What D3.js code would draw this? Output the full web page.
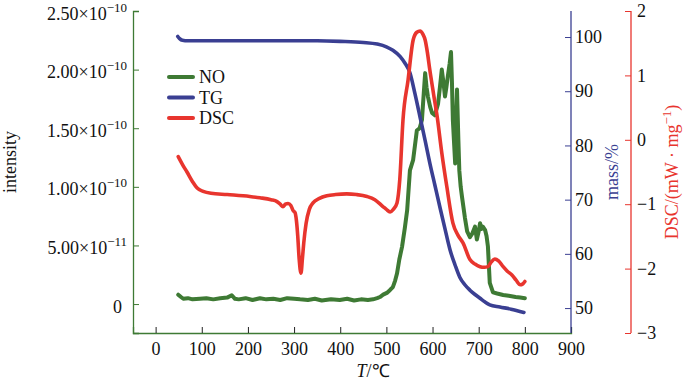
<!DOCTYPE html>
<html><head><meta charset="utf-8">
<script src="https://cdn.jsdelivr.net/npm/d3@7"></script>
<style>body{margin:0;background:#fff}svg{display:block}</style>
</head><body>
<script>
// ---- data ----
const noT   = [49,55,60,70,80,96,110,125,140,155,165,172,180,195,210,226,240,255,270,285,300,313,330,345,360,380,399,415,430,445,460,471,480,486,493,501,508,514,519,523,528,534,540,545,551,558,566,572,577,581,584,587,590,595,599,605,612,616,620,624,627,630,633,637,640,642,644,647,649,651,653,656,658,661,664,670,675,681,686,692,696,700,703,706,709,714,717,720,724,731,740,753,765,780,790,800];
const noVal = [0.8,0.6,0.45,0.5,0.4,0.45,0.5,0.4,0.5,0.55,0.75,0.45,0.4,0.5,0.35,0.5,0.4,0.45,0.35,0.5,0.45,0.4,0.35,0.45,0.3,0.4,0.35,0.45,0.3,0.4,0.35,0.4,0.5,0.6,0.8,0.95,1.2,1.45,2.0,2.6,3.8,4.9,6.5,8.0,11.4,12.3,14.8,15.0,15.7,18.0,19.7,18.5,17.7,16.8,16.3,16.1,17.1,18.5,20.0,18.8,17.7,18.5,19.4,20.5,21.5,19.0,15.7,13.5,12.0,15.5,18.3,14.0,11.4,10.0,9.1,7.4,6.2,5.7,6.0,6.6,5.5,6.2,6.9,6.4,6.6,6.3,5.8,4.9,1.8,1.0,0.9,0.77,0.7,0.6,0.55,0.5];

const tgT   = [48,52,58,70,100,150,200,250,300,350,400,450,480,500,515,530,540,551,562,573,584,594,605,616,627,638,649,659,670,681,692,703,714,724,746,770,798];
const tgVal = [100.1,99.7,99.4,99.3,99.3,99.3,99.3,99.3,99.3,99.3,99.2,99.0,98.7,98.2,97.5,96.4,95.2,93.4,89.5,85.2,80.9,76.8,72.7,68.6,64.6,60.7,57.9,55.7,54.3,53.3,52.5,51.8,51.1,50.6,50.2,49.8,49.2];

const dscT   = [49,58,68,80,90,103,120,155,204,226,250,263,270,276,281,287,293,298,302,305,308,311,315,318,321,326,333,341,355,371,390,414,435,458,475,493,500,508,515,523,529,536,547,558,566,573,579,584,589,594,602,610,620,631,644,655,666,681,692,703,712,720,727,735,743,753,762,772,781,790,795,800];
const dscVal = [-0.26,-0.38,-0.50,-0.65,-0.75,-0.80,-0.83,-0.85,-0.88,-0.90,-0.93,-0.96,-1.00,-1.04,-1.00,-0.99,-1.02,-1.10,-1.13,-1.25,-1.5,-1.85,-2.07,-1.85,-1.6,-1.3,-1.08,-0.98,-0.91,-0.87,-0.85,-0.84,-0.85,-0.88,-0.93,-1.04,-1.08,-1.12,-1.08,-0.98,-0.62,0.31,0.93,1.55,1.67,1.69,1.64,1.55,1.35,1.09,0.72,0.36,-0.2,-0.73,-1.29,-1.48,-1.6,-1.86,-1.93,-1.97,-1.98,-1.97,-1.90,-1.85,-1.88,-1.97,-2.04,-2.1,-2.18,-2.25,-2.24,-2.2];

const xTicks    = [0,100,200,300,400,500,600,700,800,900];
const noTicks   = [0,5,10,15,20,25];                // in units of 1e-11
const noTickMant = ["0","5.00","1.00","1.50","2.00","2.50"];
const noTickExp  = ["", "−11","−10","−10","−10","−10"];
const tgTicks   = [50,60,70,80,90,100];
const dscTicks  = [-3,-2,-1,0,1,2];
const legendNames = ["NO","TG","DSC"];

// ---- layout ----
const W=683,H=382;
const L=133,R=571,T=11,B=333;
const RED_AX=631;
const cGreen="#3e7a34", cBlue="#3a3f92", cRed="#e8352e";
const font="'Liberation Serif','Times New Roman',serif";

const svg=d3.select("body").append("svg").attr("width",W).attr("height",H)
  .style("font-family",font);

const x=d3.scaleLinear().domain([-49,900]).range([L,R]);
const yNO=d3.scaleLinear().domain([-2.47,25]).range([B,T]);
const yTG=d3.scaleLinear().domain([45.4,104.8]).range([B,T]);
const yDSC=d3.scaleLinear().domain([-3,2]).range([B,T]);

// ---- curves ----
const lineNO=d3.line().x((d,i)=>x(noT[i])).y(d=>yNO(d)).curve(d3.curveLinear);
const lineTG=d3.line().x((d,i)=>x(tgT[i])).y(d=>yTG(d)).curve(d3.curveMonotoneX);
const lineDSC=d3.line().x((d,i)=>x(dscT[i])).y(d=>yDSC(d)).curve(d3.curveMonotoneX);

svg.append("path").attr("d",lineNO(noVal)).attr("fill","none").attr("stroke",cGreen)
  .attr("stroke-width",4).attr("stroke-linejoin","round").attr("stroke-linecap","round");
svg.append("path").attr("d",lineTG(tgVal)).attr("fill","none").attr("stroke",cBlue)
  .attr("stroke-width",3.6).attr("stroke-linejoin","round").attr("stroke-linecap","round");
svg.append("path").attr("d",lineDSC(dscVal)).attr("fill","none").attr("stroke",cRed)
  .attr("stroke-width",3.6).attr("stroke-linejoin","round").attr("stroke-linecap","round");

// ---- x axis ----
const xAx=svg.append("g").attr("transform",`translate(0,${B})`)
  .call(d3.axisBottom(x).tickValues(xTicks).tickSize(-6).tickPadding(9).tickFormat(d3.format("d")));
xAx.select(".domain").attr("stroke",cGreen).attr("stroke-width",1.3);
xAx.selectAll(".tick line").attr("stroke","#222").attr("stroke-width",1);
xAx.selectAll(".tick text").attr("font-family",font).attr("font-size",18).attr("fill","#111");

// ---- left NO axis ----
const yAx=svg.append("g").attr("transform",`translate(${L},0)`)
  .call(d3.axisLeft(yNO).tickValues(noTicks).tickSize(-6).tickFormat(()=>""));
yAx.select(".domain").attr("stroke",cGreen).attr("stroke-width",1.3);
yAx.selectAll(".tick line").attr("stroke",cGreen);
yAx.selectAll(".tick text").remove();
noTicks.forEach((v,i)=>{
  const t=svg.append("text").attr("x",noTickExp[i]?127:122).attr("y",yNO(v)+8.5)
    .attr("text-anchor","end").attr("font-size",18).attr("fill","#111");
  if(noTickExp[i]){
    t.append("tspan").text(noTickMant[i]+"×10");
    t.append("tspan").attr("dy",-8).attr("font-size",13).text(noTickExp[i]);
  } else t.text(noTickMant[i]);
});

// ---- TG axis ----
const tgAx=svg.append("g").attr("transform",`translate(${R},0)`)
  .call(d3.axisRight(yTG).tickValues(tgTicks).tickSize(-6).tickPadding(4).tickFormat(d3.format("d")));
tgAx.select(".domain").attr("stroke",cBlue).attr("stroke-width",1.3).attr("d",`M0,${T}V${B}`);
tgAx.selectAll(".tick line").attr("stroke",cBlue);
tgAx.selectAll(".tick text").attr("x",4).attr("font-family",font).attr("font-size",18).attr("fill","#111");

// ---- DSC axis ----
const dAx=svg.append("g").attr("transform",`translate(${RED_AX},0)`)
  .call(d3.axisRight(yDSC).tickValues(dscTicks).tickSize(-6).tickFormat(d=>d<0?"−"+(-d):String(d)));
dAx.select(".domain").attr("stroke",cRed).attr("stroke-width",1.3).attr("d",`M0,${T}V${B}`);
dAx.selectAll(".tick line").attr("stroke",cRed);
dAx.selectAll(".tick text").attr("x",6).attr("font-family",font).attr("font-size",18).attr("fill","#111");

// ---- titles ----
svg.append("text").attr("transform","translate(16,162) rotate(-90)").attr("text-anchor","middle")
  .attr("font-size",18).attr("fill","#111").text("intensity");
svg.append("text").attr("transform","translate(618,172) rotate(-90)").attr("text-anchor","middle")
  .attr("font-size",18).attr("fill",cBlue).text("mass/%");
const dt=svg.append("text").attr("transform","translate(678,172) rotate(-90)").attr("text-anchor","middle")
  .attr("font-size",18).attr("fill",cRed);
dt.append("tspan").text("DSC/(mW · mg");
dt.append("tspan").attr("dy",-7).attr("font-size",13).text("−1");
dt.append("tspan").attr("dy",7).text(")");

const xt=svg.append("text").attr("x",373).attr("y",377).attr("text-anchor","middle")
  .attr("font-size",18).attr("fill","#111");
xt.append("tspan").attr("font-style","italic").text("T");
xt.append("tspan").text("/℃");

// ---- legend ----
const legColors=[cGreen,cBlue,cRed];
legendNames.forEach((n,i)=>{
  const yy=77+i*20.5;
  svg.append("line").attr("x1",169).attr("x2",193).attr("y1",yy).attr("y2",yy)
    .attr("stroke",legColors[i]).attr("stroke-width",4).attr("stroke-linecap","round");
  svg.append("text").attr("x",199).attr("y",yy+6).attr("font-size",18).attr("fill","#111").text(n);
});
</script>
</body></html>
